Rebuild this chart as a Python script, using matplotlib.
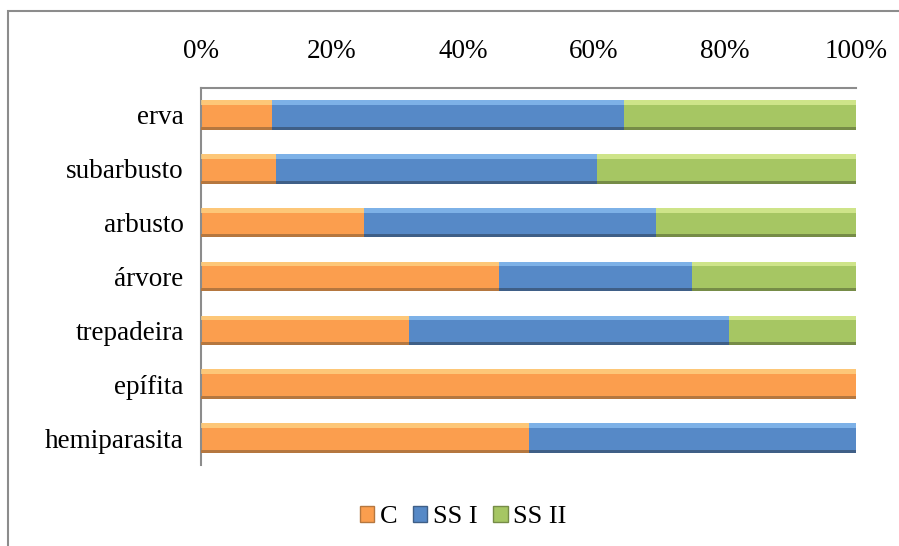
import matplotlib
matplotlib.use("Agg")
import matplotlib.pyplot as plt
import numpy as np
from matplotlib.patches import Rectangle, Patch

categories = ["erva", "subarbusto", "arbusto", "árvore", "trepadeira", "epífita", "hemiparasita"]
series_names = ["C", "SS I", "SS II"]
C = [10.9, 11.4, 24.9, 45.5, 31.7, 100.0, 50.0]
SS_I = [53.7, 49.0, 44.5, 29.4, 48.9, 0.0, 50.0]
SS_II = [35.4, 39.6, 30.6, 25.1, 19.4, 0.0, 0.0]
tick_values = [0, 20, 40, 60, 80, 100]
tick_labels = ["0%", "20%", "40%", "60%", "80%", "100%"]

main_colors = ["#FB9E4E", "#5689C7", "#A6C663"]
light_colors = ["#FFD98A", "#8EC3F5", "#E0F29A"]
dark_colors = ["#B5773F", "#3F5F87", "#768C47"]

plt.rcParams['font.family'] = ['Liberation Serif', 'DejaVu Serif']
FS = 19.5

fig = plt.figure(figsize=(8.99, 5.46), dpi=100)
ax = fig.add_axes([201/899, 1-465/546, 655/899, 377/546])

y = np.arange(len(categories))
h = 0.55
left = np.zeros(len(categories))
for i, vals in enumerate([C, SS_I, SS_II]):
    vals = np.array(vals)
    ax.barh(y, vals, left=left, height=h, color=main_colors[i], edgecolor='none', zorder=2)
    # top highlight
    ax.barh(y - h/2 + h*0.08, vals, left=left, height=h*0.16, color=light_colors[i], edgecolor='none', alpha=0.7, zorder=3)
    # bottom shadow
    ax.barh(y + h/2 - h*0.05, vals, left=left, height=h*0.10, color=dark_colors[i], edgecolor='none', zorder=3)
    left = left + vals

ax.set_xlim(0, 100)
ax.set_ylim(len(categories) - 0.5, -0.5)
ax.set_yticks(y)
ax.set_yticklabels(categories, fontsize=FS)
ax.xaxis.tick_top()
ax.set_xticks(tick_values)
ax.set_xticklabels(tick_labels, fontsize=FS)
ax.tick_params(axis='x', length=0, pad=17)
ax.tick_params(axis='y', length=0, pad=12.5)
for s in ['right', 'bottom']:
    ax.spines[s].set_visible(False)
for s in ['top', 'left']:
    ax.spines[s].set_color('#8C8C8C')
    ax.spines[s].set_linewidth(1.5)

handles = [Patch(facecolor=main_colors[i], edgecolor=dark_colors[i]) for i in range(3)]
fig.legend(handles, series_names, loc='center', bbox_to_anchor=(463/899, 1-517/546),
           ncol=3, frameon=False, fontsize=19, handlelength=0.55, handleheight=0.55,
           handletextpad=0.2, columnspacing=0.6)

fig.patches.append(Rectangle((8/899, -0.01), 1.0, 1-11/546+0.01, transform=fig.transFigure,
                             fill=False, edgecolor='#8C8C8C', linewidth=1.5))

fig.savefig("out.png", dpi=100)
